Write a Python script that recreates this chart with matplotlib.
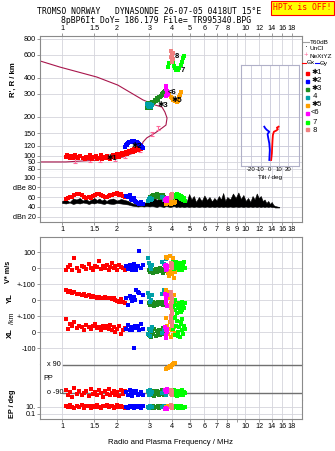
import numpy as np
import matplotlib
matplotlib.use("Agg")
import matplotlib.pyplot as plt
from matplotlib.lines import Line2D
from matplotlib.ticker import NullLocator, NullFormatter

plt.rcParams['font.family'] = ['Liberation Sans', 'DejaVu Sans']

# ---- axis ticks
freq_ticks = [1, 1.5, 2, 3, 4, 5, 6, 7, 8, 9, 10, 12, 14, 16, 18]
freq_labels = ['1', '1.5', '2', '3', '4', '5', '6', '7', '8', '9', '10', '12', '14', '16', '18']
h_ticks = [80, 90, 100, 120, 150, 200, 300, 400, 600, 800]
db_ticks = [20, 40, 60, 80, 100]
db_labels = ['dBn 20', '40', '60', 'dBe 80', '100']
mid_ticks = [100, 0, -100, -200, -300, -400, -500]
mid_labels = ['100', '0', '+-100', '0', '+-100', '0', '-100']
tilt_ticks = [-20, -10, 0, 10, 20]

# ---- real-height profile (plasma frequency MHz, height km)
prof_f = [0.76, 1.05, 1.2, 1.5, 1.9, 2.15, 2.44, 2.67, 2.73, 2.77, 2.91, 3.22, 3.52, 3.70, 3.75,
          3.65, 3.52, 3.22, 2.77, 2.02, 1.55, 0.975, 0.76]
prof_h = [90, 90, 91, 92.5, 96.5, 98, 105, 111, 117, 128, 138, 150, 164, 173, 196,
          218, 238, 247, 270, 351, 405, 483, 538]
nexyz_f = [1.18, 1.42, 1.61, 1.95, 2.21, 2.67, 3.09, 3.33]
nexyz_h = [92, 93, 93, 95, 100, 111, 147, 165]

# ---- virtual height traces (MHz, km)
t1_f = [1.05, 1.07, 1.1, 1.12, 1.15, 1.18, 1.2, 1.23, 1.26, 1.3, 1.33, 1.36, 1.4, 1.43, 1.46,
        1.5, 1.53, 1.56, 1.6, 1.63, 1.66, 1.7, 1.73, 1.77, 1.8, 1.84, 1.87, 1.9, 1.94, 1.97,
        2.0, 2.04, 2.08, 2.12, 2.16, 2.2, 2.24, 2.28, 2.32, 2.36, 2.4, 2.44, 2.48, 2.52, 2.56,
        2.6, 2.65, 2.7]
t1_h = [98, 101, 96, 100, 97, 102, 99, 96, 100, 97, 94, 99, 96, 101, 95,
        98, 100, 95, 97, 101, 94, 98, 96, 100, 97, 95, 99, 102, 98, 101,
        104, 99, 103, 106, 101, 105, 108, 104, 110, 107, 112, 108, 114, 110, 116,
        112, 117, 114]
t2_f = [2.21, 2.24, 2.26, 2.28, 2.30, 2.33, 2.35, 2.38, 2.40, 2.43, 2.45, 2.48, 2.50, 2.53,
        2.56, 2.59, 2.61, 2.64, 2.67, 2.70, 2.73, 2.76]
t2_h = [118, 121, 122, 124, 125, 127, 128, 129, 130, 130, 131, 130, 129, 129,
        128, 126, 125, 123, 121, 120, 118, 116]
t3_f = [2.90, 2.93, 2.96, 3.0, 3.02, 3.05, 3.09, 3.12, 3.15, 3.19, 3.22, 3.26, 3.29, 3.33,
        3.36, 3.40, 3.43, 3.47, 3.50, 3.53, 3.57, 3.61, 3.65]
t3_h = [239, 233, 254, 243, 247, 236, 262, 250, 254, 262, 270, 265, 278, 270,
        274, 283, 286, 290, 294, 298, 303, 308, 316]
t4_f = [2.92, 2.96, 3.0, 3.04, 3.08, 3.12]
t4_h = [250, 244, 240, 252, 238, 246]
t5_f = [3.85, 3.92, 4.0, 4.06, 4.12, 4.18, 4.23, 4.28, 4.33, 4.38, 4.42, 4.45]
t5_h = [298, 286, 278, 270, 266, 263, 262, 266, 272, 282, 295, 309]
t6_f = [3.70, 3.71, 3.72, 3.73, 3.74, 3.76, 3.78]
t6_h = [290, 345, 330, 318, 305, 296, 300]
t7_f = [3.81, 3.85, 3.97, 4.0, 4.04, 4.07, 4.12, 4.19, 4.28, 4.37, 4.45, 4.52, 4.58, 4.64]
t7_h = [486, 516, 590, 557, 525, 495, 472, 456, 461, 477, 502, 531, 565, 590]
t8_f = [3.95, 3.96, 3.97, 3.98, 4.0, 4.01, 4.02, 4.03]
t8_h = [640, 580, 610, 550, 530, 590, 620, 560]

# trace labels (text, freq, height)
lbl_txt = ['\u27311', '\u27312', '\u27313', '\u27315', '<6', '7', '8']
lbl_f = [1.74, 2.41, 3.31, 3.99, 3.79, 4.47, 4.13]
lbl_h = [96, 118, 243, 268, 308, 455, 580]

# ---- tilt inset (height km, degrees)
tiltx_h = [93.2, 104.9, 117.9, 132.7, 145, 153.8, 156.7, 160.5, 165.1, 168.1]
tiltx = [1.8, 2.6, 2.9, 3.3, 3.7, 4.8, 7.3, 9.2, 8.1, 10]
tilty_h = [93.2, 111.2, 125.3, 137.1, 147.6, 153.8, 158.5, 163.3, 168.1]
tilty = [-0.3, 0.3, -0.3, -1.4, -2.2, -0.3, -2.9, -4.7, -5.8]

# ---- noise amplitude (MHz, dB low, dB high)
noise_f = [1.0, 1.05, 1.1, 1.15, 1.2, 1.25, 1.3, 1.35, 1.4, 1.45, 1.5, 1.55, 1.6, 1.65, 1.7,
           1.75, 1.8, 1.9, 2.0, 2.1, 2.2, 2.3, 2.4, 2.5, 2.6, 2.7, 2.8, 2.9, 3.0, 3.1,
           3.2, 3.3, 3.4, 3.5, 3.6, 3.7, 3.8, 3.9, 4.0, 4.1, 4.2, 4.3, 4.4, 4.5, 4.65,
           4.8, 4.95, 5.1, 5.25, 5.4, 5.6, 5.8, 6.0, 6.2, 6.4, 6.6, 6.8, 7.0, 7.2, 7.4,
           7.6, 7.8, 8.0, 8.3, 8.6, 8.9, 9.2, 9.5, 9.8, 10.1, 10.4, 10.7, 11.0, 11.3, 11.6,
           11.9, 12.2, 12.5, 12.8, 13.1, 13.4, 13.7, 14.0, 14.3, 14.6, 15.0, 15.4]
noise_hi = [52, 55, 50, 57, 55, 58, 53, 56, 52, 55, 58, 54, 57, 53, 56,
            52, 55, 57, 53, 56, 54, 52, 48, 46, 47, 45, 48, 50, 55, 52,
            58, 54, 60, 56, 63, 57, 55, 60, 65, 58, 62, 55, 60, 52, 58,
            50, 66, 55, 62, 50, 60, 52, 63, 54, 60, 51, 58, 53, 62, 55,
            68, 52, 60, 55, 67, 58, 69, 56, 64, 52, 58, 50, 62, 55, 67,
            58, 62, 52, 55, 48, 52, 46, 50, 44, 42, 41, 40]
noise_lo = [48, 47, 49, 46, 48, 47, 49, 48, 46, 48, 47, 49, 48, 47, 46,
            48, 47, 46, 48, 47, 46, 45, 43, 42, 41, 42, 41, 42, 41, 42,
            41, 40, 42, 41, 40, 42, 41, 40, 41, 42, 40, 41, 40, 41, 40,
            41, 40, 41, 40, 41, 40, 41, 40, 41, 40, 41, 40, 41, 40, 41,
            40, 41, 40, 41, 40, 41, 40, 41, 40, 41, 40, 41, 40, 41, 40,
            41, 40, 41, 40, 41, 40, 41, 40, 40, 39, 39, 39]

# ---- echo parameters per trace: freq, amplitude dB, V* m/s, YL km, XL km, PP deg, EP deg
l1_f = [1.05, 1.08, 1.11, 1.14, 1.17, 1.2, 1.24, 1.28, 1.32, 1.36, 1.4, 1.44, 1.48, 1.52, 1.56,
        1.6, 1.64, 1.68, 1.72, 1.76, 1.8, 1.84, 1.88, 1.92, 1.96, 2.0, 2.05, 2.1, 2.15, 2.2]
l1_amp = [56, 58, 60, 61, 64, 67, 66, 64, 61, 59, 60, 58, 62, 64, 66,
          67, 65, 63, 61, 60, 63, 65, 64, 67, 66, 68, 65, 66, 63, 61]
l1_v = [-10, 5, 20, -15, 60, 0, -20, 10, 5, -5, 25, 0, -10, 15, 5,
        45, -5, 10, 0, 20, -10, 5, 30, 0, 10, -15, 20, 5, 0, -10]
l1_yl = [60, 50, 55, 45, 50, 40, 35, 30, 35, 25, 30, 20, 25, 20, 15,
         20, 15, 10, 20, 15, 10, 15, 5, 10, 0, -5, -10, 5, -15, -20]
l1_xl = [80, 20, 50, 35, 60, 25, 40, 30, 10, 45, 30, 20, 35, 50, 25,
         30, 15, 40, 25, 35, 20, 45, 10, 30, 0, 20, 35, -10, 15, 25]
l1_pp = [-70, -100, -85, -115, -60, -95, -80, -105, -90, -75, -110, -65, -95, -85, -100,
         -70, -90, -115, -80, -95, -65, -105, -90, -75, -100, -85, -110, -70, -95, -80]
l1_ep = [20, 8, 30, 12, 5, 25, 10, 35, 7, 15, 22, 6, 18, 9, 28,
         12, 4, 20, 14, 32, 8, 16, 25, 6, 11, 30, 9, 19, 13, 5]

l2_f = [2.25, 2.3, 2.34, 2.38, 2.42, 2.46, 2.5, 2.55, 2.6, 2.65, 2.7, 2.78]
l2_amp = [62, 60, 64, 57, 55, 58, 53, 50, 48, 47, 50, 46]
l2_v = [10, -5, 20, 0, -15, 25, 5, -10, 15, 105, 0, 20]
l2_yl = [10, -30, 25, 15, -5, 20, 0, 60, 50, 45, -10, 30]
l2_xl = [20, 45, 10, 30, 15, -100, 40, 25, 35, 10, 50, 20]
l2_pp = [-85, -100, -70, -95, -110, -80, -90, -75, -105, -95, -85, -100]
l2_ep = [12, 6, 20, 9, 15, 4, 25, 8, 11, 18, 7, 14]

l3_f = [2.98, 3.02, 3.06, 3.1, 3.15, 3.2, 3.25, 3.3, 3.35, 3.4, 3.45, 3.5, 3.55, 3.6, 3.65, 3.7]
l3_amp = [55, 60, 58, 62, 65, 60, 63, 66, 61, 64, 58, 62, 65, 60, 57, 59]
l3_v = [-10, -25, 0, -20, -30, -15, -5, -25, -10, -20, 0, -15, -30, -5, -20, -10]
l3_yl = [-20, -30, -15, -25, -10, -35, -20, -30, -15, -25, -20, -10, -30, -15, -25, -20]
l3_xl = [-20, 10, -30, 0, -15, 20, -25, 5, -10, 15, -20, 0, 25, -15, 10, -5]
l3_pp = [-85, -70, -100, -90, -80, -110, -95, -75, -90, -100, -85, -70, -95, -105, -80, -90]
l3_ep = [8, 14, 5, 10, 20, 7, 12, 9, 16, 6, 11, 18, 8, 13, 7, 10]

l4_f = [2.95, 3.0, 3.03, 3.06, 3.1, 3.5, 3.6, 3.7]
l4_amp = [52, 56, 58, 54, 57, 60, 55, 58]
l4_v = [60, 30, 10, -5, 20, 40, 25, 55]
l4_yl = [45, 20, -10, 0, 30, 40, 60, 35]
l4_xl = [-10, 20, -25, 5, 30, -5, 10, 25]
l4_pp = [-80, -100, -70, -95, -85, -90, -75, -105]
l4_ep = [10, 6, 14, 8, 12, 9, 15, 7]

l5_f = [3.7, 3.75, 3.8, 3.85, 3.9, 3.95, 4.0, 4.05, 4.1, 4.15]
l5_amp = [46, 48, 50, 52, 49, 47, 51, 53, 48, 50]
l5_v = [70, 60, -30, -50, 75, -20, -40, 60, -60, -25]
l5_yl = [60, 50, 10, -30, 40, -20, 20, -40, 30, -10]
l5_xl = [90, 40, -10, 20, 60, -30, 10, -20, 30, -5]
l5_pp = [62, 70, 68, 78, 82, 80, 90, 95, 100, 104]
l5_ep = [12, 8, 15, 10, 20, 9, 14, 11, 18, 10]

l6_f = [3.66, 3.68, 3.7, 3.72, 3.74, 3.76]
l6_amp = [55, 52, 57, 54, 58, 53]
l6_v = [15, -10, 5, 20, -5, 10]
l6_yl = [40, 20, -20, 0, -40, 30]
l6_xl = [30, -20, 10, -40, 20, 0]
l6_pp = [-70, -80, -75, -85, -65, -78]
l6_ep = [2, 3, 2.5, 4, 2, 3]

l7_f = [4.0, 4.05, 4.1, 4.15, 4.2, 4.25, 4.3, 4.35, 4.4, 4.45, 4.5, 4.55, 4.6, 4.65, 4.7,
        4.12, 4.28, 4.48]
l7_amp = [58, 62, 65, 60, 63, 66, 61, 64, 59, 62, 57, 60, 55, 58, 52, 64, 60, 56]
l7_v = [20, 35, -5, 10, 40, 0, 25, -10, 30, 5, 15, -12, 20, 35, 0, 25, 10, -5]
l7_yl = [-10, -40, -20, -60, -30, -80, -50, -20, -70, -40, -10, -60, -30, -50, -20, 0, -45, -75]
l7_xl = [60, 20, 90, -20, 40, 70, 0, 30, -30, 50, 10, 80, -10, 40, 20, 95, -25, 60]
l7_pp = [-80, -100, -70, -95, -85, -110, -75, -90, -105, -80, -95, -70, -100, -85, -90, -75, -95, -85]
l7_ep = [10, 6, 14, 9, 12, 8, 15, 7, 11, 18, 9, 13, 6, 10, 8, 12, 7, 14]

l8_f = [3.93, 3.95, 3.97, 3.99, 3.94, 3.96, 3.98, 4.0]
l8_amp = [62, 65, 60, 63, 58, 64, 61, 66]
l8_v = [20, 10, 25, 5, 15, 30, 0, 12]
l8_yl = [50, 30, 10, -10, -30, -50, -70, -90]
l8_xl = [100, 80, 60, 45, 90, 70, 55, 40]
l8_pp = [-75, -95, -85, -105, -70, -90, -100, -80]
l8_ep = [10, 20, 8, 15, 30, 12, 6, 18]

colors = ['#ff0000', '#0000ff', '#1e8c1e', '#00a0a8', '#ffa000', '#ff00ff', '#00ff00', '#f08080']
legend_txt = ['\u27311', '\u27312', '\u27313', ' 4', '\u27315', '<6', ' 7', ' 8']

W, H = 335, 451
GRID = '#d4d4dc'
FRAME = '#8a8a8a'
FS = 5.2
MONO = 'DejaVu Sans Mono'

fig = plt.figure(figsize=(W / 100, H / 100), dpi=100)


def box(l, t, r, b):
    return [l / W, 1 - b / H, (r - l) / W, (b - t) / H]


def ptext(x, y, s, **kw):
    kw.setdefault('fontsize', FS)
    fig.text(x / W, 1 - y / H, s, **kw)


def freq_axis(rect, labels=None, top=False):
    a = fig.add_axes(rect)
    a.set_xscale('log')
    a.set_xlim(0.758, 20.5)
    a.set_xticks(freq_ticks)
    a.xaxis.set_minor_locator(NullLocator())
    a.xaxis.set_minor_formatter(NullFormatter())
    if labels is None:
        a.set_xticklabels([])
        a.tick_params(axis='x', length=0)
    else:
        a.set_xticklabels(labels)
    if top:
        a.xaxis.tick_top()
    a.grid(True, color=GRID, lw=0.6)
    a.set_axisbelow(True)
    for s in a.spines.values():
        s.set_color(FRAME)
        s.set_linewidth(0.8)
    a.tick_params(length=2, width=0.6, color=FRAME, labelsize=FS, pad=1)
    return a


def dots(a, x, y, c, **kw):
    a.scatter(x, y, s=6, c=c, marker='s', linewidths=0, zorder=3, **kw)


outer_labels = [l if t != 9 else '' for t, l in zip(freq_ticks, freq_labels)]

# ---------------- virtual height panel
ax = freq_axis(box(40, 36, 302, 172), outer_labels, top=True)
ax.set_yscale('log')
ax.set_ylim(75.3, 838)
ax.set_yticks(h_ticks)
ax.set_yticklabels([str(t) for t in h_ticks])
ax.yaxis.set_minor_locator(NullLocator())
ax.yaxis.set_minor_formatter(NullFormatter())
ax.spines['bottom'].set_color(GRID)

ax.plot(prof_f, prof_h, color='#a8164c', lw=0.8, zorder=2)
ax.errorbar(nexyz_f, nexyz_h, yerr=np.array(nexyz_h) * 0.035, fmt='none',
            ecolor='#ff6a9a', elinewidth=0.8, capsize=1.3, capthick=0.8, zorder=3)
tops = [(t1_f, t1_h), (t2_f, t2_h), (t3_f, t3_h), (t4_f, t4_h),
        (t5_f, t5_h), (t6_f, t6_h), (t7_f, t7_h), (t8_f, t8_h)]
for (tf, th), c in zip(tops, colors):
    dots(ax, tf, th, c)
for s, lf, lh in zip(lbl_txt, lbl_f, lbl_h):
    ax.text(lf, lh, s, fontsize=5.5, color='black', va='center', ha='left',
            zorder=5, fontweight='bold')

# ---------------- tilt inset
axi = fig.add_axes(box(241, 65, 299, 166))
axi.set_yscale('log')
axi.set_ylim(83.8, 501)
axi.set_xlim(-31.6, 32.6)
axi.set_xticks(tilt_ticks)
axi.set_xticklabels([str(t) for t in tilt_ticks])
axi.set_yticks([t for t in h_ticks if 84 < t < 500])
axi.yaxis.set_minor_locator(NullLocator())
axi.yaxis.set_minor_formatter(NullFormatter())
axi.set_yticklabels([])
axi.grid(True, color='#c8c8d8', lw=0.6)
axi.set_axisbelow(True)
axi.tick_params(length=0, labelsize=4.3, pad=0.5)
for s in axi.spines.values():
    s.set_color('#b0b0c8')
    s.set_linewidth(0.8)
axi.plot(tiltx, tiltx_h, color='#ff0000', lw=1.3)
axi.plot(tilty, tilty_h, color='#0000ff', lw=1.3)
ptext(270, 177, 'Tilt / deg', fontsize=4.6, ha='center', va='center')

# ---------------- amplitude panel
axa = freq_axis(box(40, 172, 302, 222), freq_labels)
axa.set_ylim(10, 110)
axa.set_yticks(db_ticks)
axa.set_yticklabels(db_labels)
axa.spines['top'].set_visible(False)
axa.fill_between(noise_f, noise_lo, noise_hi, color='black', lw=0.4, zorder=2)
lows = [(l1_f, l1_amp, l1_v, l1_yl, l1_xl, l1_pp, l1_ep),
        (l2_f, l2_amp, l2_v, l2_yl, l2_xl, l2_pp, l2_ep),
        (l3_f, l3_amp, l3_v, l3_yl, l3_xl, l3_pp, l3_ep),
        (l4_f, l4_amp, l4_v, l4_yl, l4_xl, l4_pp, l4_ep),
        (l5_f, l5_amp, l5_v, l5_yl, l5_xl, l5_pp, l5_ep),
        (l6_f, l6_amp, l6_v, l6_yl, l6_xl, l6_pp, l6_ep),
        (l7_f, l7_amp, l7_v, l7_yl, l7_xl, l7_pp, l7_ep),
        (l8_f, l8_amp, l8_v, l8_yl, l8_xl, l8_pp, l8_ep)]
for tr, c in zip(lows, colors):
    dots(axa, tr[0], tr[1], c)

# ---------------- V*, YL, XL panel
axm = freq_axis(box(40, 237, 302, 364))
axm.set_ylim(-600, 194)
axm.set_yticks(mid_ticks)
axm.set_yticklabels(mid_labels)
axm.spines['bottom'].set_visible(False)
for tr, c in zip(lows, colors):
    f = np.array(tr[0])
    dots(axm, f, np.array(tr[2]), c)
    dots(axm, f, np.array(tr[3]) - 200, c)
    dots(axm, f, np.array(tr[4]) - 400, c)

# ---------------- polarisation panel
axp = freq_axis(box(40, 364, 302, 400))
axp.set_ylim(-135, 96.4)
axp.set_yticks([])
axp.spines['top'].set_visible(False)
axp.spines['bottom'].set_visible(False)
x0 = (63 - 40) / 262
axp.axhline(90, xmin=x0, color='#707070', lw=1.0)
axp.axhline(-90, xmin=x0, color='#707070', lw=1.0)
for tr, c in zip(lows, colors):
    dots(axp, tr[0], tr[5], c, clip_on=False)

# ---------------- EP panel
axe = freq_axis(box(40, 400, 302, 419), outer_labels)
axe.set_yscale('log')
axe.set_ylim(0.0037, 1000)
axe.set_yticks([0.1, 10])
axe.set_yticklabels(['0.1', '10.'])
axe.yaxis.set_minor_locator(NullLocator())
axe.yaxis.set_minor_formatter(NullFormatter())
axe.spines['top'].set_visible(False)
for tr, c in zip(lows, colors):
    dots(axe, tr[0], tr[6], c)
axe.set_xlabel('Radio and Plasma Frequency / MHz', fontsize=5.6, labelpad=6)

# ---------------- texts
ptext(149, 12, 'TROMSO NORWAY   DYNASONDE 26-07-05 0418UT 15\u00b0E', family=MONO,
      fontsize=5.9, ha='center', va='center')
ptext(156.5, 20.5, '8pBP6It DoY= 186.179 File= TR995340.BPG', family=MONO,
      fontsize=5.9, ha='center', va='center')
ptext(302.5, 8, 'HPTx is OFF!', family=MONO, fontsize=5.9, color='#ff0000',
      ha='center', va='center',
      bbox=dict(boxstyle='square,pad=0.25', fc='#ffff00', ec='#ff0000', lw=0.8))

ptext(13, 80, "R', R / km", fontsize=5.6, rotation=90, ha='center', va='center',
      fontweight='bold')
ptext(9, 272, 'V* m/s', fontsize=5.2, rotation=90, ha='center', va='center',
      fontweight='bold')
ptext(10, 298, 'YL', fontsize=5.6, rotation=90, ha='center', va='center',
      fontweight='bold')
ptext(12, 318, '/km', fontsize=5.0, rotation=90, ha='center', va='center')
ptext(10, 333, 'XL', fontsize=5.6, rotation=90, ha='center', va='center',
      fontweight='bold')
ptext(12, 404, 'EP / deg', fontsize=5.2, rotation=90, ha='center', va='center',
      fontweight='bold')
ptext(47, 365, 'x 90', ha='left', va='center')
ptext(47, 393, 'o -90', ha='left', va='center')
ptext(43, 379, 'PP', ha='left', va='center')

# ---------------- legend
LFS = 4.6
ptext(310, 42, 'T60dB', ha='left', va='center', fontsize=LFS)
fig.add_artist(Line2D([303 / W, 309 / W], [1 - 42 / H, 1 - 42 / H], color='#a0a0a0', lw=0.8))
ptext(306, 47.5, '\u00b7', ha='center', va='center', fontsize=6)
ptext(310, 48, 'UnCl', ha='left', va='center', fontsize=LFS)
ptext(306, 56, '+', ha='center', va='center', color='#ff6a9a', fontsize=5.5)
ptext(309, 56, 'NeXtYZ', ha='left', va='center', fontsize=LFS)
fig.add_artist(Line2D([302 / W, 306 / W], [1 - 63 / H, 1 - 63 / H], color='#ff0000', lw=0.8))
ptext(306.5, 63, '\u0398x', ha='left', va='center', fontsize=LFS)
fig.add_artist(Line2D([315 / W, 319 / W], [1 - 63 / H, 1 - 63 / H], color='#0000ff', lw=0.8))
ptext(319.5, 63, '\u0398y', ha='left', va='center', fontsize=LFS)
leg_y = [73, 81, 89, 97, 105, 113, 122, 130]
for yy, c, s in zip(leg_y, colors, legend_txt):
    fig.add_artist(plt.Rectangle((305.5 / W, 1 - (yy + 1.5) / H), 3 / W, 3 / H,
                                 color=c, transform=fig.transFigure))
    ptext(311, yy, s, ha='left', va='center', fontsize=5.4)

fig.savefig('out.png', dpi=100)
